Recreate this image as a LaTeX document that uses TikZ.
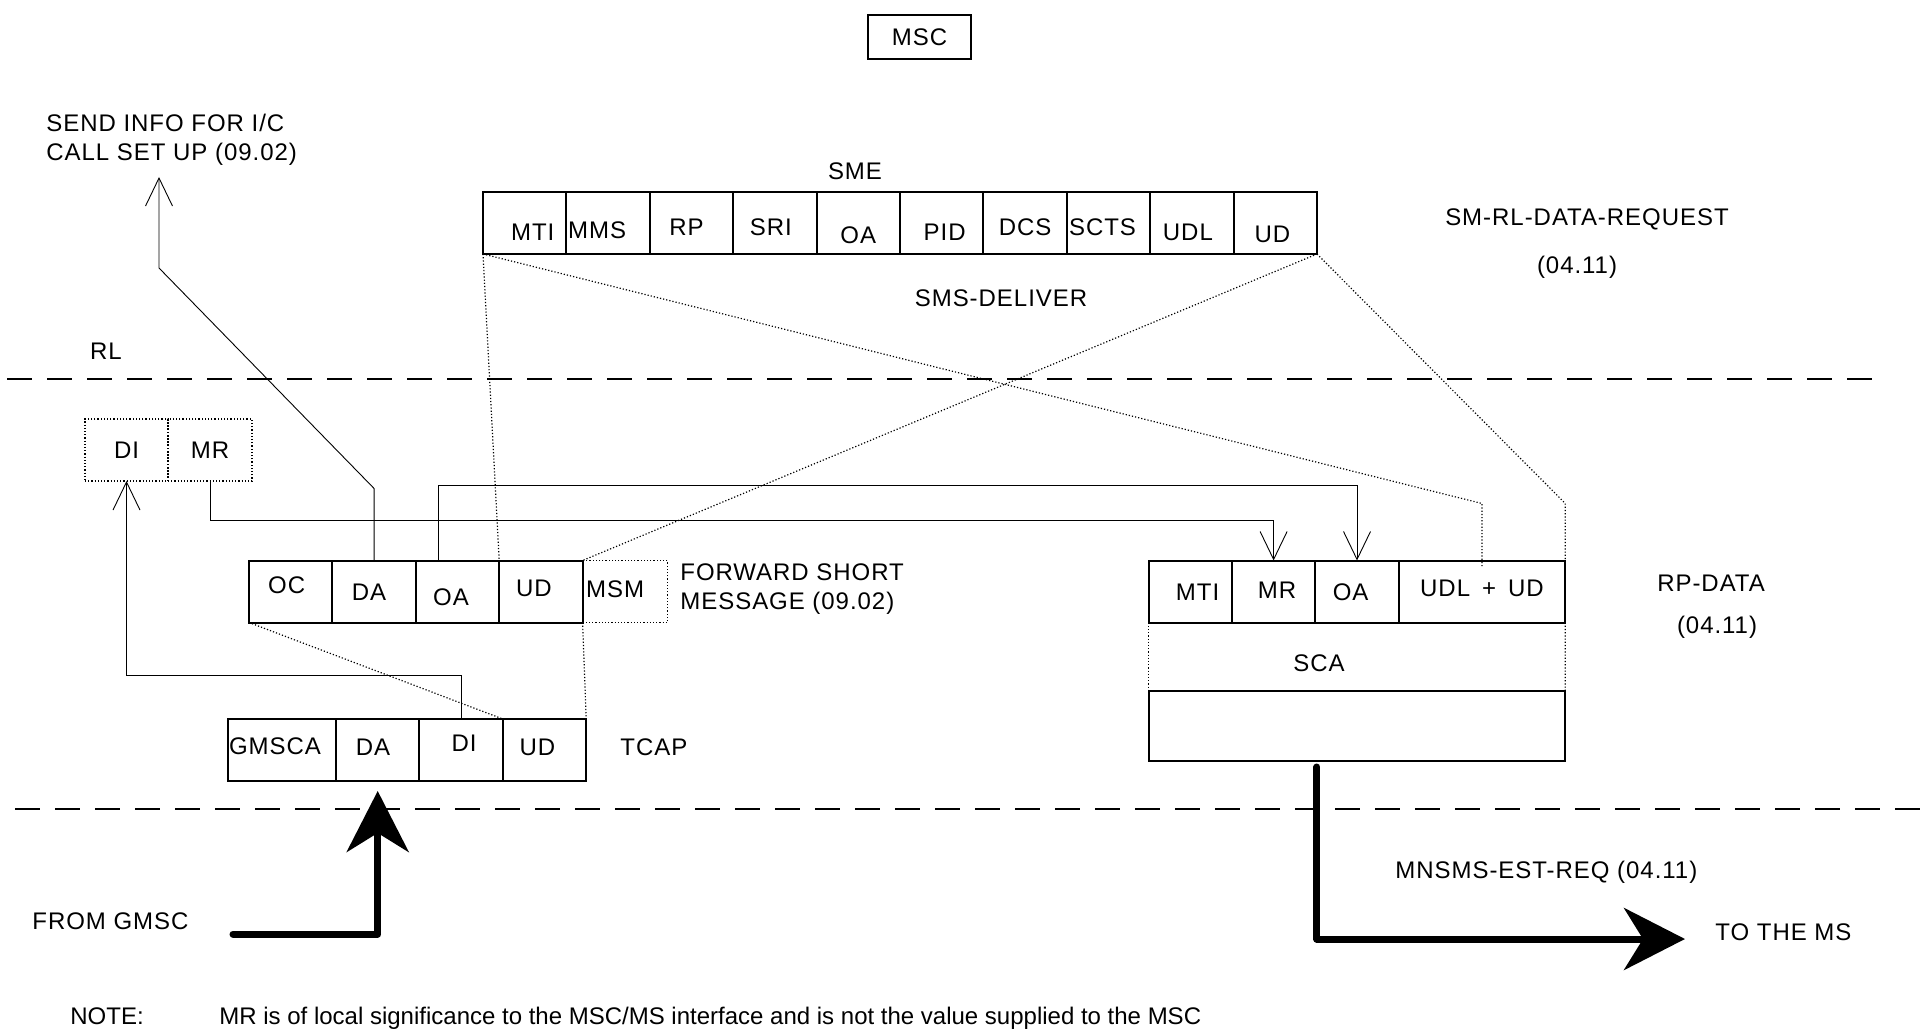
\documentclass[tikz,border=0pt]{standalone}
\usepackage{fontspec}
\setmainfont[LetterSpace=4]{Liberation Sans}
\newfontfamily\notefont{Liberation Sans}
\usetikzlibrary{positioning,arrows.meta}

\tikzset{
  cell/.style={draw, line width=1pt, minimum width=41.7pt, minimum height=31pt, inner sep=0pt, outer sep=0pt, text height=8.6pt, text depth=0pt},
  dotcell/.style={cell, line width=0.6pt, dash pattern=on 0.6pt off 1pt},
  dotline/.style={line width=0.6pt, dash pattern=on 0.6pt off 1pt},
  thinline/.style={line width=0.45pt},
  openarr/.style={thinline, -{Straight Barb[length=14pt, width=13.5pt]}},
  bigarr/.style={line width=3.5pt, line cap=round, line join=round, -{Stealth[length=30.5pt, width=31pt, inset=9.5pt]}},
  layer/.style={line width=0.6pt, dash pattern=on 12.5pt off 7.5pt},
  txt/.style={inner sep=0pt, text height=8.6pt, text depth=0pt}
}

\begin{document}
\begin{tikzpicture}[x=0.5pt, y=-0.5pt, every node/.style={font=\fontsize{12}{14.5}\selectfont}]
\useasboundingbox (0,0) rectangle (1927,1032);

% MSC
\node[draw, line width=0.6pt, minimum width=51.5pt, minimum height=22pt, inner sep=0pt, text height=8.6pt, text depth=0pt] (msc) at (919.5,37) {MSC};

% SMS-DELIVER (SME)
\node[txt] (sme) at (855,171) {SME};
\node[cell, text height=17.2pt] (dmti) at (524.7,223) {\hspace*{8pt}MTI};
\node[cell, text height=15.8pt, right=0pt of dmti] (dmms) {MMS\hspace*{11pt}};
\node[cell, text height=12.2pt, right=0pt of dmms] (drp) {RP\hspace*{5pt}};
\node[cell, text height=12.2pt, right=0pt of drp] (dsri) {SRI\hspace*{4pt}};
\node[cell, text height=20.6pt, right=0pt of dsri] (doa) {OA};
\node[cell, text height=17.2pt, right=0pt of doa] (dpid) {\hspace*{3pt}PID};
\node[cell, text height=12.2pt, right=0pt of dpid] (ddcs) {DCS};
\node[cell, text height=12.2pt, right=0pt of ddcs] (dscts) {SCTS\hspace*{6pt}};
\node[cell, text height=17.2pt, right=0pt of dscts] (dudl) {UDL\hspace*{4pt}};
\node[cell, text height=19.6pt, right=0pt of dudl] (dud) {UD\hspace*{3pt}};
\node[txt] (smsdeliver) at (1001,298) {SMS-DELIVER};
\node[txt] (smrl) at (1587,217) {SM-RL-DATA-REQUEST};
\node[txt] (smrlref) at (1577,265) {(04.11)};
\node[inner sep=0pt, align=left, anchor=north west] (sendinfo) at (46,113.5) {SEND INFO FOR I/C\\CALL SET UP (09.02)};

% RL
\node[txt] (rl) at (106,351) {RL};
\draw[layer] (7,379) -- (1873,379);

% DI / MR
\node[dotcell, minimum width=41.5pt] (ldi) at (126.5,450) {DI};
\node[dotcell, minimum width=42pt, right=0pt of ldi] (lmr) {MR};

% Forward short message
\node[cell, text depth=6.5pt] (foc) at (290.7,591.5) {OC\hspace*{4pt}};
\node[cell, right=0pt of foc] (fda) {DA\hspace*{5pt}};
\node[cell, text height=14.1pt, right=0pt of fda] (foa) {OA\hspace*{6.5pt}};
\node[cell, text depth=3.5pt, right=0pt of foa] (fud) {UD\hspace*{7pt}};
\node[dotcell, minimum width=42.5pt, text depth=2.5pt, right=0pt of fud] (fmsm) {MSM\hspace*{10pt}};
\node[inner sep=0pt, align=left, anchor=north west] (forward) at (680,563.5) {FORWARD SHORT\\MESSAGE (09.02)};

% TCAP
\node[cell, minimum width=54pt, text depth=4pt] (tgmsca) at (282,750) {GMSCA\hspace*{7pt}};
\node[cell, text depth=3pt, right=0pt of tgmsca] (tda) {DA\hspace*{4.6pt}};
\node[cell, text depth=7pt, right=0pt of tda] (tdi) {\hspace*{3pt}DI};
\node[cell, text depth=3pt, right=0pt of tdi] (tud) {UD\hspace*{7pt}};
\node[txt, anchor=west] (tcap) at (620,747) {TCAP};

% RP-DATA
\node[cell] (rmti) at (1190.2,591.5) {\hspace*{7.4pt}MTI};
\node[cell, text depth=1.5pt, right=0pt of rmti] (rmr) {\hspace*{3.4pt}MR};
\node[cell, right=0pt of rmr] (roa) {OA\hspace*{6.4pt}};
\node[cell, minimum width=83.3pt, text depth=3.5pt, right=0pt of roa] (rud) {UDL\enspace+\enspace UD};
\node[txt] (sca) at (1319,663) {SCA};
\node[cell, minimum width=208.4pt, minimum height=35pt] (scabox) at (1356.9,726) {};
\node[txt] (rpdata) at (1711,583) {RP-DATA};
\node[txt] (rpdataref) at (1717,625) {(04.11)};

% lower layer
\draw[layer] (15,809) -- (1922,809);
\node[txt, anchor=west] (fromgmsc) at (32,921) {FROM GMSC};
\node[txt, anchor=west] (mnsms) at (1395,870) {MNSMS-EST-REQ (04.11)};
\node[txt, anchor=west] (toms) at (1715,932) {TO THE MS};
\node[txt, anchor=west, font=\notefont\fontsize{12}{14.5}\selectfont] (note) at (70,1016) {NOTE:};
\node[txt, anchor=west, font=\notefont\fontsize{12}{14.5}\selectfont] (notetext) at (219,1016) {MR is of local significance to the MSC/MS interface and is not the value supplied to the MSC};

% connections
\coordinate (sendtip) at (159,177);
\draw[openarr] (fda.north) -- ++(0,-72) -- (159,268) -- (sendtip);
\draw[openarr] (tdi.north) -- ++(0,-44) -| (ldi.south);
\draw[openarr] (lmr.south) -- ++(0,39) -| (rmr.north);
\draw[openarr] ([xshift=-9.75pt]foa.north) -- ++(0,-75) -| (roa.north);

\draw[dotline] (dmti.south west) -- (fud.north west);
\draw[dotline] (dmti.south west) -- ([yshift=28.5pt]rud.north) -- ([yshift=-3.5pt]rud.north);
\draw[dotline] (dud.south east) -- (fud.north east);
\draw[dotline] (dud.south east) -- ([yshift=28.5pt]rud.north east) -- (rud.north east);
\draw[dotline] (foc.south west) -- (tud.north west);
\draw[dotline] (fud.south east) -- (tud.north east);
\draw[dotline] (rmti.south west) -- (scabox.north west);
\draw[dotline] (rud.south east) -- (scabox.north east);

% in and out
\coordinate (gmscin) at (233,934);
\draw[bigarr] (gmscin) -| ([yshift=-5pt]tda.south);
\coordinate (msout) at (1685,939);
\draw[bigarr] ([xshift=-20pt,yshift=-3pt]scabox.south) |- (msout);

\end{tikzpicture}
\end{document}
